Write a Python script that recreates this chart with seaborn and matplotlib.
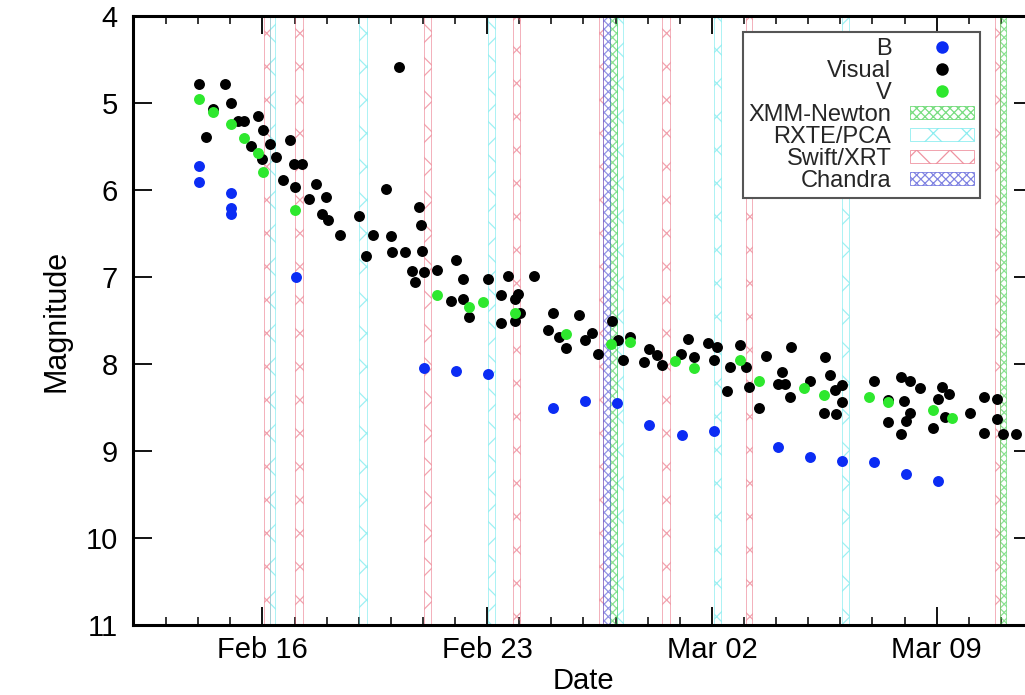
import numpy as np
import pandas as pd
import matplotlib
matplotlib.use("Agg")
import matplotlib.pyplot as plt
import matplotlib.dates as mdates
from matplotlib.lines import Line2D
from matplotlib.patches import Patch
from matplotlib.ticker import FixedLocator
import seaborn as sns

# ---------------- data (time = days since 2006 Feb 12.0) ----------------
b_t = [2.02, 2.02, 3.02, 3.02, 3.02, 5.04, 9.03, 10.04, 11.04, 13.04, 14.04, 15.05,
       16.04, 17.06, 18.05, 20.05, 21.05, 22.05, 23.05, 24.06, 25.04]
b_mag = [5.72, 5.91, 6.03, 6.21, 6.28, 7.00, 8.05, 8.08, 8.12, 8.50, 8.43, 8.45,
         8.70, 8.82, 8.77, 8.95, 9.07, 9.12, 9.13, 9.27, 9.35]

v_t = [2.02, 2.45, 3.02, 3.43, 3.85, 4.03, 5.02, 9.44, 10.45, 10.87, 11.86, 13.45,
       14.87, 15.44, 16.85, 17.45, 18.88, 19.47, 20.88, 21.48, 22.88, 23.48, 24.88, 25.48]
v_mag = [4.95, 5.10, 5.24, 5.40, 5.57, 5.79, 6.23, 7.21, 7.34, 7.29, 7.41, 7.66,
         7.77, 7.75, 7.97, 8.05, 7.95, 8.20, 8.28, 8.36, 8.38, 8.44, 8.53, 8.62]

vis_t = [2.02, 2.85, 3.02, 2.23, 2.45, 3.23, 3.43, 3.85, 4.03, 4.23, 3.66, 4.00, 4.43,
         4.87, 4.97, 5.23, 4.65, 5.02, 5.66, 5.44, 5.99, 5.85, 6.03, 6.43, 7.02, 7.23,
         7.45, 7.86, 7.99, 8.03, 8.45, 8.24, 8.87, 8.95, 8.98, 8.65, 8.74, 9.03, 9.44,
         10.04, 10.25, 9.86, 10.25, 10.45, 11.03, 11.65, 12.45, 11.44, 11.96, 11.86,
         11.44, 12.01, 11.86,
         13.04, 12.88, 13.24, 13.45, 13.87, 14.04, 14.25, 14.46, 14.90, 15.08, 15.44,
         15.24, 15.88, 16.04, 16.28, 16.46, 17.24, 17.04, 17.45, 17.87, 18.17, 18.05,
         18.56, 18.48, 18.88, 19.05, 19.16, 19.47, 19.68, 20.18, 20.05, 20.28, 20.44,
         20.47, 21.04, 21.53, 21.67, 21.82, 22.05, 22.05, 21.48, 21.87, 23.05, 23.48,
         23.48, 23.89, 24.18, 24.47, 23.97, 24.18, 24.06, 23.89, 24.88, 25.17, 25.38,
         25.04, 25.27, 26.05, 26.47, 26.88, 26.47, 26.88, 27.06, 27.46]
vis_mag = [4.78, 4.78, 5.00, 5.39, 5.07, 5.21, 5.21, 5.15, 5.31, 5.47, 5.49, 5.64, 5.62,
           5.43, 5.70, 5.70, 5.89, 5.96, 5.93, 6.10, 6.08, 6.28, 6.34, 6.52, 6.30, 6.76,
           6.52, 5.99, 6.53, 6.71, 6.71, 4.59, 6.20, 6.40, 6.70, 6.93, 7.06, 6.94, 6.92,
           6.80, 7.02, 7.28, 7.25, 7.46, 7.02, 6.99, 6.99, 7.21, 7.19, 7.25,
           7.53, 7.41, 7.50,
           7.41, 7.61, 7.69, 7.82, 7.44, 7.72, 7.64, 7.88, 7.50, 7.72, 7.69,
           7.95, 7.98, 7.83, 7.90, 8.01, 7.71, 7.89, 7.92, 7.76, 7.80, 7.95,
           8.03, 8.31, 7.78, 8.03, 8.26, 8.51, 7.91, 8.09, 8.23, 8.23, 8.38,
           7.80, 8.19, 7.92, 8.13, 8.30, 8.24, 8.44, 8.56, 8.58, 8.19, 8.41,
           8.67, 8.15, 8.20, 8.28, 8.42, 8.56, 8.65, 8.80, 8.74, 8.26, 8.35,
           8.40, 8.61, 8.56, 8.38, 8.40, 8.79, 8.63, 8.80, 8.81]

# X-ray observation windows (start, end), days since Feb 12.0
swift_win = [(4.04, 4.24), (5.01, 5.27), (9.03, 9.26), (11.80, 12.01), (14.48, 14.61),
             (16.46, 16.69), (19.05, 19.26), (26.81, 26.96)]
rxte_win = [(4.24, 4.39), (7.02, 7.26), (11.03, 11.25), (15.03, 15.24), (18.05, 18.27),
            (22.05, 22.26)]
xmm_win = [(14.82, 15.03), (26.96, 27.17)]
chandra_win = [(14.61, 14.82)]

tick_dates = ["2006-02-16", "2006-02-23", "2006-03-02", "2006-03-09"]
y_ticks = [4, 5, 6, 7, 8, 9, 10, 11]

# ---------------- styling ----------------
sns.set_theme(style="ticks")
plt.rcParams["font.family"] = ["Liberation Sans", "DejaVu Sans"]
plt.rcParams["hatch.linewidth"] = 0.9

t0 = mdates.date2num(pd.Timestamp("2006-02-12"))

fig = plt.figure(figsize=(10.25, 6.95), dpi=100)
ax = fig.add_axes([133 / 1025, 70 / 695, 900 / 1025, 609 / 695])

c_b, c_vis, c_v = "#0b2cf4", "#000000", "#2ee82e"
c_xmm, c_rxte, c_swift, c_chan = "#3fcf4a", "#5fe6ea", "#e8667a", "#4a4fd6"

def bands(wins, color, hatch):
    for s, e in wins:
        ax.axvspan(t0 + s, t0 + e, facecolor="none", edgecolor=color, hatch=hatch,
                   linewidth=0.6, alpha=0.6, zorder=1)

bands(swift_win, c_swift, "x")
bands(rxte_win, c_rxte, "x")
bands(xmm_win, c_xmm, "xxxx")
bands(chandra_win, c_chan, "xxxx")

df_b = pd.DataFrame({"t": t0 + np.array(b_t), "mag": b_mag})
df_vis = pd.DataFrame({"t": t0 + np.array(vis_t), "mag": vis_mag})
df_v = pd.DataFrame({"t": t0 + np.array(v_t), "mag": v_mag})

kw = dict(x="t", y="mag", s=62, linewidth=0, legend=False, ax=ax, zorder=3)
sns.scatterplot(data=df_b, color=c_b, **kw)
sns.scatterplot(data=df_vis, color=c_vis, **kw)
sns.scatterplot(data=df_v, color=c_v, **kw)

ax.set_xlim(t0 - 0.03, t0 + 28.0)
ax.set_ylim(11, 4)

ax.xaxis.set_major_locator(FixedLocator([mdates.date2num(pd.Timestamp(d)) for d in tick_dates]))
ax.xaxis.set_major_formatter(mdates.DateFormatter("%b %d"))
ax.xaxis.set_minor_locator(mdates.DayLocator())
ax.set_yticks(y_ticks)
ax.set_yticklabels([str(v) for v in y_ticks])

for sp in ax.spines.values():
    sp.set_linewidth(2.2)
    sp.set_color("black")
    sp.set_visible(True)

ax.tick_params(axis="both", which="major", direction="in", top=True, right=True,
               labelsize=21, width=1.3, color="black", labelcolor="black")
ax.tick_params(axis="x", which="major", length=13, pad=8)
ax.tick_params(axis="y", which="major", length=14, pad=11)
ax.tick_params(axis="x", which="minor", direction="in", top=True, bottom=True,
               length=6, width=1.1, color="black")

ax.set_xlabel("Date", fontsize=21, labelpad=2, color="black")
ax.set_ylabel("Magnitude", fontsize=22, labelpad=10, color="black")
ax.grid(False)
ax.set_facecolor("white")

handles = [
    Line2D([], [], marker="o", linestyle="none", color=c_b, markersize=9, markeredgewidth=0),
    Line2D([], [], marker="o", linestyle="none", color=c_vis, markersize=9, markeredgewidth=0),
    Line2D([], [], marker="o", linestyle="none", color=c_v, markersize=9, markeredgewidth=0),
    Patch(facecolor="none", edgecolor=c_xmm, hatch="xxxx", linewidth=0.6, alpha=0.7),
    Patch(facecolor="none", edgecolor=c_rxte, hatch="x", linewidth=0.6, alpha=0.7),
    Patch(facecolor="none", edgecolor=c_swift, hatch="x", linewidth=0.6, alpha=0.7),
    Patch(facecolor="none", edgecolor=c_chan, hatch="xxxx", linewidth=0.6, alpha=0.7),
]
labels = ["B", "Visual", "V", "XMM-Newton", "RXTE/PCA", "Swift/XRT", "Chandra"]
leg = ax.legend(handles, labels, loc="upper right",
                bbox_to_anchor=(980 / 1025, 1 - 32 / 695), bbox_transform=fig.transFigure,
                borderaxespad=0, markerfirst=False, fontsize=17, labelspacing=0.0,
                handlelength=2.7, handleheight=0.5, handletextpad=0.8,
                borderpad=0.25, fancybox=False, framealpha=1, edgecolor="#555555")
leg.get_frame().set_linewidth(1.5)
leg.set_zorder(5)

fig.savefig("out.png", dpi=100)
